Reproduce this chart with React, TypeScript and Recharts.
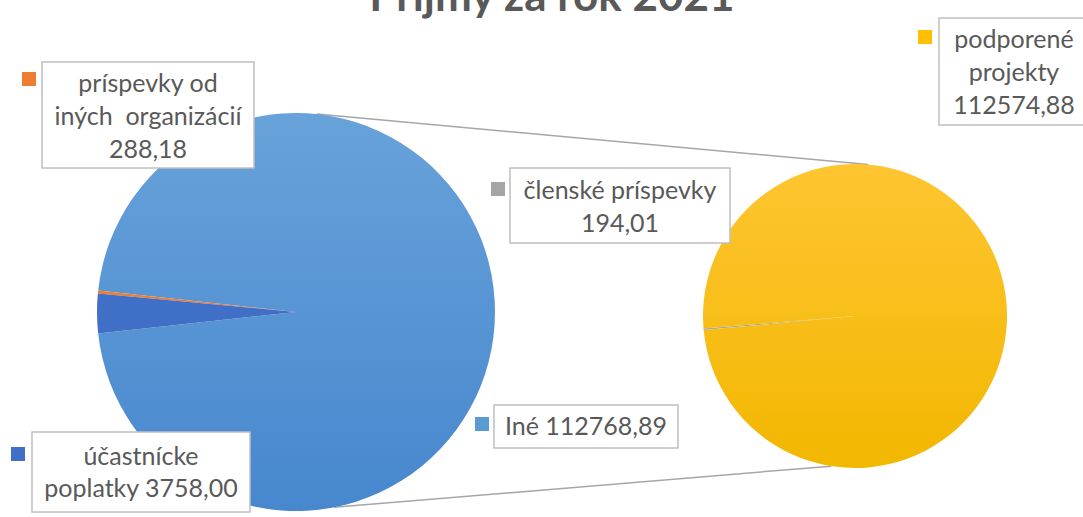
import { PieChart, Pie, Cell } from "recharts";

const MAIN_NAMES = ["Iné", "príspevky od\niných  organizácií", "účastnícke\npoplatky"];
const MAIN_VALUES = [112768.89, 288.18, 3758.0];
const MAIN_COLORS = ["#5B9BD5", "#ED7D31", "#3F6FC6"];

const SUB_NAMES = ["členské príspevky", "podporené\nprojekty"];
const SUB_VALUES = [194.01, 112574.88];
const SUB_COLORS = ["#A5A5A5", "#FFC000"];

const TITLE = "Príjmy za rok 2021";

const W = 1083;
const H = 517;
const LEFT = { cx: 296, cy: 312, r: 199 };
const RIGHT = { cx: 855, cy: 316, r: 152 };
const TEXT = "#595959";
const FONT = "Lato, 'Open Sans', sans-serif";

// manual label boxes, like the Excel original
type Box = { x: number; y: number; w: number; h: number; y0: number; lh: number; nl: boolean; mx: number; my: number };
const MAIN_BOXES: Box[] = [
  { x: 494, y: 405, w: 184, h: 43, y0: 435, lh: 33, nl: false, mx: 475, my: 417 },
  { x: 42, y: 62, w: 212, h: 106, y0: 92, lh: 33, nl: true, mx: 22, my: 72 },
  { x: 32, y: 432, w: 218, h: 80, y0: 465, lh: 32, nl: false, mx: 11, my: 447 },
];
const SUB_BOXES: Box[] = [
  { x: 510, y: 168, w: 220, h: 75, y0: 199, lh: 33, nl: true, mx: 491, my: 182 },
  { x: 939, y: 18, w: 150, h: 107, y0: 48, lh: 33, nl: true, mx: 918, my: 30 },
];

const mainData = MAIN_NAMES.map((name, i) => ({ name, value: MAIN_VALUES[i] }));
const subData = SUB_NAMES.map((name, i) => ({ name, value: SUB_VALUES[i] }));

const mainTotal = MAIN_VALUES.reduce((a, b) => a + b, 0);
const ineAngle = (MAIN_VALUES[0] / mainTotal) * 360;
const mainStart = -ineAngle / 2;
const subTotal = SUB_VALUES.reduce((a, b) => a + b, 0);
const subStart = 185 - ((SUB_VALUES[0] / subTotal) * 360) / 2;

function fmt(v: number) {
  return v.toFixed(2).replace(".", ",");
}

function makeLabel(boxes: Box[], colors: string[]) {
  return (props: any) => {
    const i = props.index;
    const b = boxes[i];
    const name: string = props.name ?? props.payload?.name;
    const text = name + (b.nl ? "\n" : " ") + fmt(props.value);
    const lines = text.split("\n");
    return (
      <g key={`lbl-${i}`}>
        <rect x={b.mx} y={b.my} width={14} height={14} fill={colors[i]} />
        <rect x={b.x} y={b.y} width={b.w} height={b.h} fill="#fff" stroke="#BFBFBF" strokeWidth={1.5} />
        {lines.map((ln, k) => (
          <text
            key={k}
            x={b.x + b.w / 2}
            y={b.y0 + k * b.lh}
            textAnchor="middle"
            fill={TEXT}
            fontSize={25}
            fontFamily={FONT}
            style={{ whiteSpace: "pre" }}
          >
            {ln}
          </text>
        ))}
      </g>
    );
  };
}

function pt(c: { cx: number; cy: number; r: number }, deg: number) {
  const a = (deg * Math.PI) / 180;
  return { x: c.cx + c.r * Math.cos(a), y: c.cy - c.r * Math.sin(a) };
}

function Connectors() {
  const t1 = pt(LEFT, 84);
  const t2 = pt(RIGHT, 85);
  const b1 = pt(LEFT, -79);
  const b2 = pt(RIGHT, -99);
  return (
    <g>
      <line x1={t1.x} y1={t1.y} x2={t2.x} y2={t2.y} stroke="#A6A6A6" strokeWidth={1.5} />
      <line x1={b1.x} y1={b1.y} x2={b2.x} y2={b2.y} stroke="#A6A6A6" strokeWidth={1.5} />
    </g>
  );
}

function Title() {
  return (
    <text x={552} y={11} textAnchor="middle" fill={TEXT} fontSize={44} fontWeight="bold" fontFamily={FONT}>
      {TITLE}
    </text>
  );
}

export default function App() {
  return (
    <div style={{ position: "absolute", left: 0, top: 0, width: W, height: H, background: "#fff" }}>
      <PieChart width={W} height={H} margin={{ top: 0, right: 0, bottom: 0, left: 0 }}>
        <defs>
          <linearGradient id="gBlue" x1="0" y1="0" x2="0" y2="1">
            <stop offset="0%" stopColor="#68A2DA" />
            <stop offset="100%" stopColor="#4787CE" />
          </linearGradient>
          <linearGradient id="gYellow" x1="0" y1="0" x2="0" y2="1">
            <stop offset="0%" stopColor="#FEC531" />
            <stop offset="100%" stopColor="#F2B700" />
          </linearGradient>
        </defs>
        <Connectors />
        <Pie
          data={mainData}
          dataKey="value"
          nameKey="name"
          cx={LEFT.cx}
          cy={LEFT.cy}
          outerRadius={LEFT.r}
          startAngle={mainStart}
          endAngle={mainStart + 360}
          stroke="none"
          labelLine={false}
          label={makeLabel(MAIN_BOXES, MAIN_COLORS)}
          isAnimationActive={false}
        >
          {mainData.map((d, i) => (
            <Cell key={d.name} fill={i === 0 ? "url(#gBlue)" : MAIN_COLORS[i]} />
          ))}
        </Pie>
        <Pie
          data={subData}
          dataKey="value"
          nameKey="name"
          cx={RIGHT.cx}
          cy={RIGHT.cy}
          outerRadius={RIGHT.r}
          startAngle={subStart}
          endAngle={subStart + 360}
          stroke="none"
          labelLine={false}
          label={makeLabel(SUB_BOXES, SUB_COLORS)}
          isAnimationActive={false}
        >
          {subData.map((d, i) => (
            <Cell key={d.name} fill={i === 1 ? "url(#gYellow)" : SUB_COLORS[i]} />
          ))}
        </Pie>
        <Title />
      </PieChart>
    </div>
  );
}
